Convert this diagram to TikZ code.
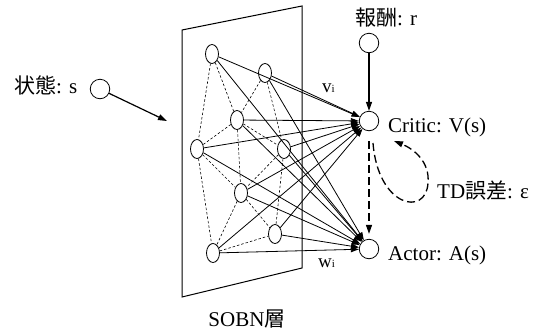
\documentclass[tikz,border=0pt]{standalone}
\usepackage{fontspec}
\setmainfont{Liberation Serif}
\newfontfamily\cjk{Noto Sans CJK JP}
\usetikzlibrary{arrows.meta,shapes.geometric}
\begin{document}
\begin{tikzpicture}[x=1pt,y=-1pt,
  hid/.style={ellipse,draw,line width=0.8pt,fill=white,minimum width=13pt,minimum height=19pt,inner sep=0pt},
  outunit/.style={circle,draw,line width=0.8pt,fill=white,minimum size=19.5pt,inner sep=0pt},
  lbl/.style={inner sep=0pt,font=\fontsize{21}{25}\selectfont,anchor=base west},
  sublbl/.style={inner sep=0pt,font=\fontsize{19}{22}\selectfont,anchor=base west},
  meshlink/.style={line width=0.6pt,dash pattern=on 2.5pt off 2pt},
  weightlink/.style={line width=0.8pt,-{Triangle[length=8pt,width=5.5pt]}},
  flow/.style={line width=1.2pt,-{Triangle[length=9pt,width=6pt]}},
  tdflow/.style={line width=1.3pt,dash pattern=on 8pt off 4pt,-{Triangle[length=9pt,width=6pt]}}
]
\useasboundingbox (0,0) rectangle (544,333);

% SOBN panel
\draw[line width=1pt] (182,30) -- (302,6) -- (302,268) -- (182,297) -- cycle;

% hidden units
\node[hid] (h1) at (212,54) {};
\node[hid] (h2) at (265,73) {};
\node[hid] (h3) at (237,120) {};
\node[hid] (h4) at (197,149) {};
\node[hid] (h5) at (284,149) {};
\node[hid] (h6) at (241,193) {};
\node[hid] (h7) at (275,234) {};
\node[hid] (h8) at (213,253) {};

% output and input units
\node[outunit] (rew) at (369,43) {};
\node[outunit] (crit) at (369,121) {};
\node[outunit] (act) at (369,249) {};
\node[outunit] (st) at (100,89) {};
\coordinate (stend) at (167,121);

% neighbourhood links inside the layer
\foreach \a/\b in {h1/h3,h1/h4,h2/h3,h2/h5,h3/h4,h3/h5,h3/h6,h4/h6,h4/h8,h5/h6,h5/h7,h6/h7,h6/h8,h8/h7}
  \draw[meshlink] (\a) -- (\b);

% weights v_i and w_i
\foreach \h in {h1,h2,h3,h4,h5,h6,h7,h8} {
  \draw[weightlink] (\h) -- (crit);
  \draw[weightlink] (\h) -- (act);
}

% signal flow
\draw[flow] (st) -- (stend);
\draw[flow] (rew) -- (crit);
\draw[tdflow,shorten <=10pt,shorten >=5pt] (crit) -- (act);
\coordinate (tdin) at (373,143);
\coordinate (tdout) at (394,141);
\draw[tdflow] (tdin) .. controls (378,207) and (426,217) .. (428,183)
  .. controls (430,162) and (414,149) .. (tdout);

% labels
\node[lbl] (stxt) at (14,93) {{\cjk 状態}: s};
\node[lbl] (rtxt) at (355,25) {{\cjk 報酬}: r};
\node[lbl] (ctxt) at (388,132) {Critic: V(s)};
\node[lbl] (atxt) at (388,260) {Actor: A(s)};
\node[lbl] (tdtxt) at (437,198) {TD{\cjk 誤差}: ε};
\node[lbl,anchor=base] (sobn) at (247,326) {SOBN{\cjk 層}};
\node[sublbl] (vlbl) at (322,92) {v{\fontsize{11}{12}\selectfont i}};
\node[sublbl] (wlbl) at (318,267) {w{\fontsize{11}{12}\selectfont i}};
\end{tikzpicture}
\end{document}
